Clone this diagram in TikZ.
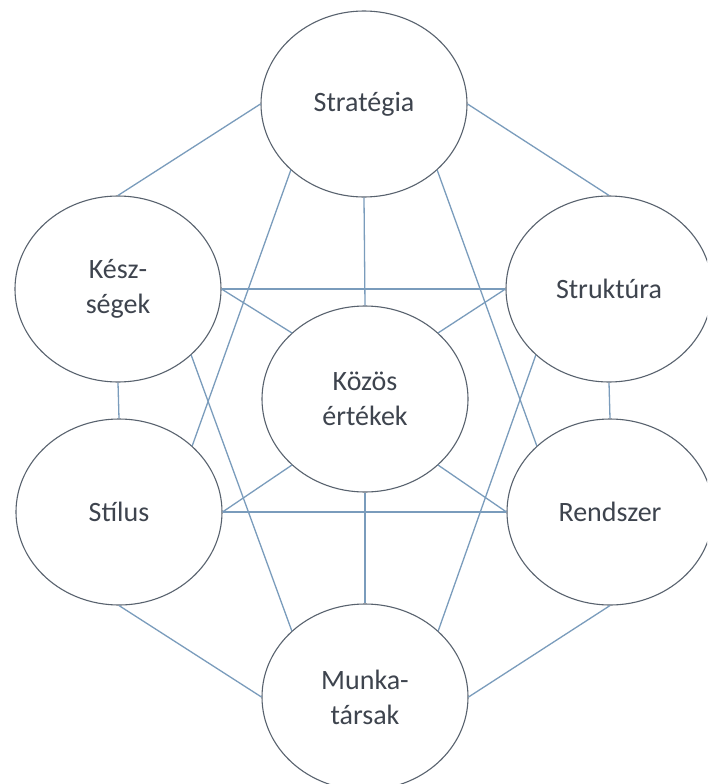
\documentclass[tikz,border=0pt]{standalone}
\usepackage{fontspec}
\setmainfont{Carlito}
\usetikzlibrary{shapes.geometric}
\definecolor{ringcol}{RGB}{88,98,110}
\definecolor{linkcol}{RGB}{122,156,188}
\definecolor{textcol}{RGB}{62,68,78}
\tikzset{
  bubble/.style={ellipse, draw=ringcol, line width=1.1pt, fill=white,
    minimum width=206pt, minimum height=186pt, inner sep=0pt,
    align=center, text=textcol, font=\fontsize{28}{35}\selectfont},
  link/.style={draw=linkcol, line width=1.3pt}
}
\begin{document}
\begin{tikzpicture}[x=1pt,y=1pt]
  \useasboundingbox (0,0) rectangle (707,-784);
  \clip (0,0) rectangle (707,-784);
  \fill[white] (0,0) rectangle (707,-784);

  % the seven elements
  \node[bubble] (strat) at (364,-104) {Stratégia};
  \node[bubble] (skill) at (118,-289) {Kész-\\ségek};
  \node[bubble] (struct) at (609,-289) {Struktúra};
  \node[bubble] (values) at (365,-399) {Közös\\értékek};
  \node[bubble] (style) at (119,-512) {Stílus};
  \node[bubble] (system) at (610,-512) {Rendszer};
  \node[bubble] (staff) at (365,-697) {Munka-\\társak};

  % links from Stratégia
  \draw[link] (strat.west) -- (skill.north);
  \draw[link] (strat.east) -- (struct.north);
  \draw[link] (strat.south) -- (values.north);
  \draw[link] (strat.south west) -- (style.north east);
  \draw[link] (strat.south east) -- (system.north west);

  % links from Készségek and Struktúra
  \draw[link] (skill.east) -- (struct.west);
  \draw[link] (skill.east) -- (values.north west);
  \draw[link] (skill.south) -- (style.north);
  \draw[link] (skill.south east) -- (staff.north west);
  \draw[link] (struct.west) -- (values.north east);
  \draw[link] (struct.south) -- (system.north);
  \draw[link] (struct.south west) -- (staff.north east);

  % links from Közös értékek
  \draw[link] (values.south west) -- (style.east);
  \draw[link] (values.south east) -- (system.west);
  \draw[link] (values.south) -- (staff.north);

  % lower links
  \draw[link] (style.east) -- (system.west);
  \draw[link] (style.south) -- (staff.west);
  \draw[link] (system.south) -- (staff.east);
\end{tikzpicture}
\end{document}
